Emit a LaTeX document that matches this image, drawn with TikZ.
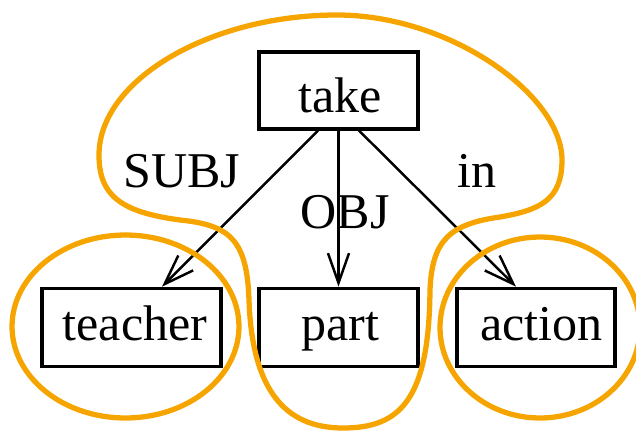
\documentclass[tikz,border=0pt]{standalone}
\usepackage{fontspec}
\setmainfont{Liberation Serif}
\usetikzlibrary{arrows.meta,calc}
\definecolor{groupline}{RGB}{246,165,0}
\begin{document}
\begin{tikzpicture}[x=0.02cm,y=-0.02cm,
  wordbox/.style={draw,line width=1.8pt,inner sep=0pt,minimum height=1.57cm},
  word/.style={inner sep=0pt,anchor=base,font=\fontsize{28.5}{32}\selectfont},
  dep/.style={line width=1.4pt,-{Straight Barb[length=17pt,width=12pt,line width=1.4pt]}},
  group/.style={draw=groupline,line width=3pt}]
\useasboundingbox (0,0) rectangle (636,430);

% word boxes
\node[wordbox,minimum width=3.18cm,minimum height=1.54cm] (take) at (338.5,90.5) {};
\node[wordbox,minimum width=3.58cm] (teacher) at (131.5,327.5) {};
\node[wordbox,minimum width=3.18cm] (part) at (338.5,327.5) {};
\node[wordbox,minimum width=3.16cm] (action) at (536,327.5) {};

\node[word] (ttake) at (340,112) {take};
\node[word] (tteacher) at (135,340) {teacher};
\node[word] (tpart) at (340.5,340) {part};
\node[word] (taction) at (541.5,340) {action};

% dependency labels
\node[word] (lsubj) at (182,187) {SUBJ};
\node[word] (lin) at (477,187) {in};
\node[word] (lobj) at (345,228) {OBJ};

% dependencies
\draw[dep] ($(take.south)+(-20.5,0)$) -- ($(teacher.north)+(30.5,0)$);
\draw[dep] (take.south) -- (part.north);
\draw[dep] ($(take.south)+(20.5,0)$) -- ($(action.north)+(-20,0)$);

% groupings: the head with its object, then each of the other two dependents
\draw[group] (99,155) .. controls (99,80) and (210,15) .. (337,15)
  .. controls (450,15) and (562,95) .. (562,160)
  .. controls (562,200) and (540,210) .. (500,217)
  .. controls (450,224) and (432,240) .. (430,290)
  .. controls (429,400) and (400,428) .. (343,428)
  .. controls (285,428) and (252,390) .. (249,300)
  .. controls (247,240) and (230,225) .. (180,220)
  .. controls (120,212) and (99,195) .. (99,155) -- cycle;
\draw[group] (125.5,326.5) ellipse [x radius=2.27cm,y radius=1.83cm];
\draw[group] (540,327.5) ellipse [x radius=2.0cm,y radius=1.81cm];
\end{tikzpicture}
\end{document}
